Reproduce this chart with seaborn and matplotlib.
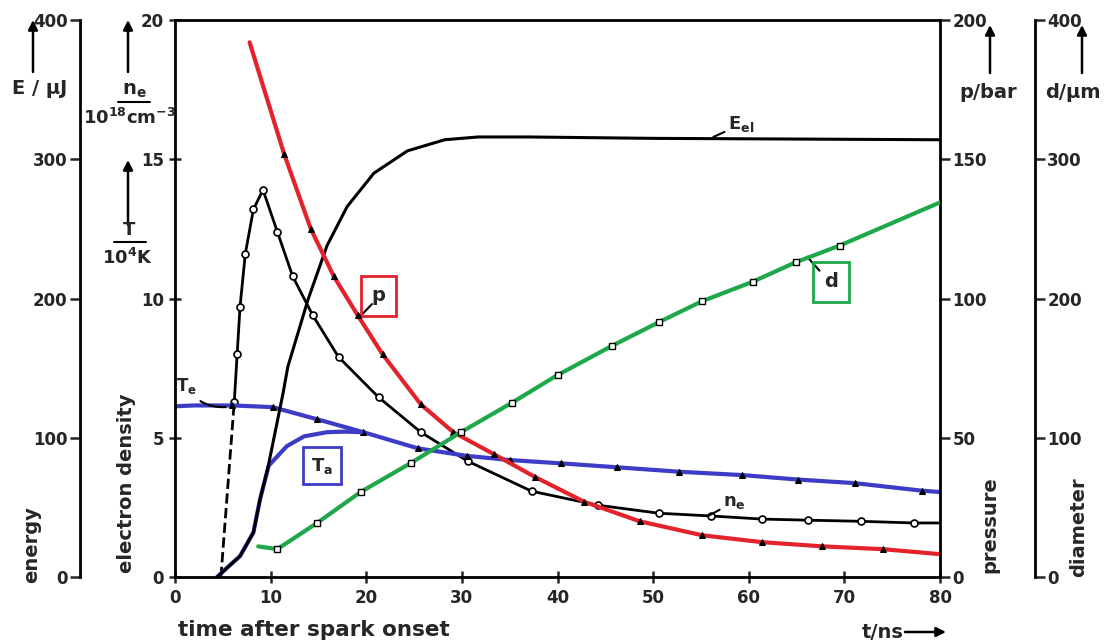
import matplotlib
matplotlib.use("Agg")
import matplotlib.pyplot as plt
import seaborn as sns

# values
# time axis in ns, n_e / T in the main (0-20) units, others in their own units
ne_t = [6.2, 6.5, 6.8, 7.35, 8.2, 9.2, 10.7, 12.3, 14.4, 17.1, 21.3, 25.7, 30.6,
        37.3, 44.2, 50.6, 56.1, 61.4, 66.2, 71.7, 77.3, 80]
ne_v = [6.3, 8.0, 9.7, 11.6, 13.2, 13.9, 12.4, 10.8, 9.4, 7.9, 6.45, 5.2, 4.16,
        3.08, 2.58, 2.29, 2.19, 2.08, 2.04, 2.0, 1.94, 1.94]
ne_rise_t = [4.8, 6.2]
ne_rise_v = [0.0, 6.3]

te_t = [0, 2, 6, 10.2, 14.9, 19.7, 25.4, 30.5, 35, 40.4, 46.2, 52.7, 59.3, 65.1, 71.1, 78.1, 80]
te_v = [6.13, 6.16, 6.16, 6.1, 5.66, 5.2, 4.62, 4.35, 4.2, 4.08, 3.94, 3.78, 3.66, 3.5, 3.37, 3.1, 3.05]

ta_t = [4.4, 5.5, 6.8, 8.2, 8.9, 9.8, 11.7, 13.5, 15.9, 17.7, 19.5]
ta_v = [0.0, 0.35, 0.75, 1.6, 2.8, 4.0, 4.7, 5.05, 5.2, 5.22, 5.2]

e_t = [4.4, 6.8, 8.2, 8.9, 9.7, 11.3, 11.8, 13.9, 15.9, 18.0, 20.8, 24.3, 28.2, 31.7, 37, 50, 80]
e_uj = [0, 15, 32, 56, 78, 132, 151, 199, 238, 266, 290, 306, 314, 316, 316, 315, 314]

p_t = [7.8, 11.4, 14.2, 16.6, 19.1, 21.7, 25.7, 29.1, 33.4, 37.6, 42.8, 48.6, 55.1,
       61.4, 67.7, 74.0, 80]
p_bar = [192, 152, 125, 108, 94, 80, 62, 52, 44, 36, 27, 20, 15, 12.5, 11, 10, 8.2]

d_t = [8.7, 10.7, 14.9, 19.4, 24.7, 29.9, 35.2, 40, 45.7, 50.6, 55.1, 60.4, 64.9, 69.5, 80]
d_um = [22, 20, 39, 61, 82, 104, 125, 145, 166, 183, 198, 212, 226, 238, 269]

x_ticks = [0, 10, 20, 30, 40, 50, 60, 70, 80]
ne_ticks = [0, 5, 10, 15, 20]
e_ticks = [0, 100, 200, 300, 400]
p_ticks = [0, 50, 100, 150, 200]
d_ticks = [0, 100, 200, 300, 400]

RED = "#e3232b"
BLUE = "#3c3cc6"
GREEN = "#1fa84a"

sns.set_style("ticks")
plt.rcParams["font.family"] = ["DejaVu Sans"]
plt.rcParams["font.weight"] = "bold"
plt.rcParams["font.size"] = 12
plt.rcParams["mathtext.default"] = "regular"
plt.rcParams["axes.linewidth"] = 2
plt.rcParams["axes.edgecolor"] = "black"

W, H = 1109, 643
fig = plt.figure(figsize=(W / 100, H / 100), dpi=100)
ax = fig.add_axes([175 / W, 1 - 577 / H, 765 / W, 557 / H])


def fxy(px, py):
    return (px / W, 1 - py / H)


ax_e = ax.twinx()
ax_p = ax.twinx()
ax_d = ax.twinx()

# main axis: electron density / temperature
sns.lineplot(x=ne_rise_t, y=ne_rise_v, ax=ax, color="black", lw=2, ls="--")
sns.lineplot(x=ne_t, y=ne_v, ax=ax, color="black", lw=2, marker="o", ms=5,
             mfc="white", mec="black", mew=1.2, markevery=list(range(0, 21)))
sns.lineplot(x=te_t, y=te_v, ax=ax, color=BLUE, lw=3, marker="^", ms=5,
             mfc="black", mec="black", markevery=list(range(2, 16)))
sns.lineplot(x=ta_t, y=ta_v, ax=ax, color=BLUE, lw=3)

sns.lineplot(x=e_t, y=e_uj, ax=ax_e, color="black", lw=2.2)
sns.lineplot(x=p_t, y=p_bar, ax=ax_p, color=RED, lw=3, marker="^", ms=5,
             mfc="black", mec="black", markevery=list(range(1, 16)))
sns.lineplot(x=d_t, y=d_um, ax=ax_d, color=GREEN, lw=3, marker="s", ms=4,
             mfc="white", mec="black", mew=1, markevery=list(range(1, 14)))

ax.set_xlim(0, 80)
ax.set_ylim(0, 20)
ax.set_xticks(x_ticks)
ax.set_yticks(ne_ticks)
ax.tick_params(axis="both", direction="inout", length=9, width=1.8, labelsize=12)
ax.tick_params(axis="x", pad=4)
ax.set_xlabel("")
ax.set_ylabel("")
ax.spines["right"].set_visible(False)

ax_e.set_ylim(0, 400)
ax_e.set_yticks(e_ticks)
ax_e.spines["left"].set_position(("axes", -0.124))
ax_e.spines["left"].set_visible(True)
for s in ["right", "top", "bottom"]:
    ax_e.spines[s].set_visible(False)
ax_e.yaxis.set_ticks_position("left")
ax_e.yaxis.set_label_position("left")
ax_e.tick_params(axis="y", direction="out", length=7, width=1.8, labelsize=12, pad=2)
ax_e.set_ylabel("")

ax_p.set_ylim(0, 200)
ax_p.set_yticks(p_ticks)
for s in ["left", "top", "bottom"]:
    ax_p.spines[s].set_visible(False)
ax_p.tick_params(axis="y", direction="out", length=7, width=1.8, labelsize=12, pad=2)
ax_p.set_ylabel("")

ax_d.set_ylim(0, 400)
ax_d.set_yticks(d_ticks)
ax_d.spines["right"].set_position(("axes", 1.124))
for s in ["left", "top", "bottom"]:
    ax_d.spines[s].set_visible(False)
ax_d.tick_params(axis="y", direction="out", length=7, width=1.8, labelsize=12, pad=2)
ax_d.set_ylabel("")

for a in [ax_e, ax_p, ax_d]:
    a.set_xlim(0, 80)

# curve labels
leader = dict(arrowstyle="-", lw=1.5, color="black", shrinkA=0, shrinkB=0)
ax.annotate("E$_{el}$", xy=(56.3, 15.8), xytext=(57.8, 16.25), fontsize=13,
            va="center", ha="left", arrowprops=leader)
ax.annotate("n$_e$", xy=(55.8, 2.2), xytext=(57.3, 2.7), fontsize=13,
            va="center", ha="left", arrowprops=leader)
ax.annotate("T$_e$", xy=(5.3, 6.1), xytext=(1.2, 6.85), fontsize=12,
            va="center", ha="center",
            arrowprops=dict(arrowstyle="-", lw=1.5, color="black", shrinkA=2, shrinkB=0,
                            connectionstyle="arc3,rad=0.3"))
ax.text(21.3, 10.1, "p", fontsize=14, ha="center", va="center",
        bbox=dict(boxstyle="square,pad=0.55", fc="none", ec=RED, lw=2))
ax.text(15.4, 4.0, "T$_a$", fontsize=13, ha="center", va="center",
        bbox=dict(boxstyle="square,pad=0.45", fc="none", ec=BLUE, lw=2))
ax.text(68.6, 10.6, "d", fontsize=14, ha="center", va="center",
        bbox=dict(boxstyle="square,pad=0.55", fc="none", ec=GREEN, lw=2))
ax.plot([19.2, 20.6], [9.3, 9.8], color="black", lw=1.5)
ax.plot([66.1, 67.4], [11.5, 11.0], color="black", lw=1.5)

# axis titles around the frame
arrow = dict(arrowstyle="-|>", lw=1.8, color="black", mutation_scale=14,
             shrinkA=0, shrinkB=0)
for x0, y0, y1 in [(33, 72, 20), (128, 72, 20), (128, 225, 160), (990, 73, 25), (1082, 73, 25)]:
    fig.add_artist(matplotlib.patches.FancyArrowPatch(fxy(x0, y0), fxy(x0, y1),
                                                      transform=fig.transFigure, **arrow))

fig.text(*fxy(40, 88), "E / μJ", fontsize=14, ha="center", va="center")
fig.text(*fxy(134, 90), "n$_e$", fontsize=14, ha="center", va="center")
fig.add_artist(plt.Line2D([118 / W, 150 / W], [1 - 102 / H] * 2, color="black", lw=1.5))
fig.text(*fxy(130, 118), "10$^{18}$cm$^{-3}$", fontsize=13, ha="center", va="center")
fig.text(*fxy(129, 230), "T", fontsize=13, ha="center", va="center")
fig.add_artist(plt.Line2D([114 / W, 146 / W], [1 - 242 / H] * 2, color="black", lw=1.5))
fig.text(*fxy(127, 258), "10$^4$K", fontsize=13, ha="center", va="center")
fig.text(*fxy(988, 92), "p/bar", fontsize=14, ha="center", va="center")
fig.text(*fxy(1073, 92), "d/μm", fontsize=14, ha="center", va="center")

fig.text(*fxy(32, 545), "energy", fontsize=14, rotation=90, ha="center", va="center")
fig.text(*fxy(126, 483), "electron density", fontsize=14, rotation=90, ha="center", va="center")
fig.text(*fxy(990, 525), "pressure", fontsize=14, rotation=90, ha="center", va="center")
fig.text(*fxy(1079, 527), "diameter", fontsize=14, rotation=90, ha="center", va="center")

fig.text(*fxy(178, 630), "time after spark onset", fontsize=15.5, ha="left", va="center")
fig.text(*fxy(862, 632), "t/ns", fontsize=14, ha="left", va="center")
fig.add_artist(matplotlib.patches.FancyArrowPatch(fxy(905, 632), fxy(946, 632),
                                                  transform=fig.transFigure, **arrow))

fig.savefig("out.png", dpi=100)
